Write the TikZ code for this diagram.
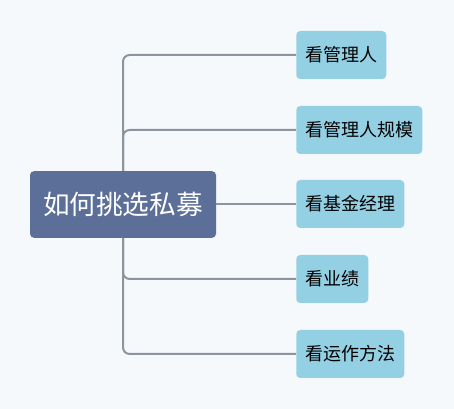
\documentclass[tikz,border=0pt]{standalone}
\usepackage{fontspec}
\newfontfamily\cjk{Noto Sans CJK SC}
\definecolor{rootblue}{HTML}{5B6F98}
\definecolor{leafblue}{HTML}{93D0E4}
\definecolor{linegray}{HTML}{8D949E}
\definecolor{bgpaper}{HTML}{F5F9FC}
\tikzset{
  rootbox/.style={fill=rootblue,rounded corners=3pt,text=white,font=\cjk\fontsize{20}{24}\selectfont,
    minimum width=139.5pt,minimum height=50pt,inner sep=0pt},
  leafbox/.style={fill=leafblue,rounded corners=3pt,text=black,font=\cjk\fontsize{13.5}{16}\selectfont,
    minimum height=36pt,inner xsep=6.75pt,anchor=west},
  branch/.style={draw=linegray,line width=1.5pt,rounded corners=5pt}
}
\begin{document}
\begin{tikzpicture}[x=0.75pt,y=-0.75pt]
  \fill[bgpaper] (0,0) rectangle (454,409);
  \useasboundingbox (0,0) rectangle (454,409);

  \node[rootbox] (root) at (123,204.5) {如何挑选私募};

  \node[leafbox] (mgr)   at (296,55)  {看管理人};
  \node[leafbox] (scale) at (296,130) {看管理人规模};
  \node[leafbox] (fm)    at (296,204) {看基金经理};
  \node[leafbox] (perf)  at (296,279) {看业绩};
  \node[leafbox] (ops)   at (296,354) {看运作方法};

  \draw[branch] (root.north) |- (mgr.west);
  \draw[branch] (root.north) |- (scale.west);
  \draw[branch] (root.east) -- (root.east -| fm.west);
  \draw[branch] (root.south) |- (perf.west);
  \draw[branch] (root.south) |- (ops.west);
\end{tikzpicture}
\end{document}
